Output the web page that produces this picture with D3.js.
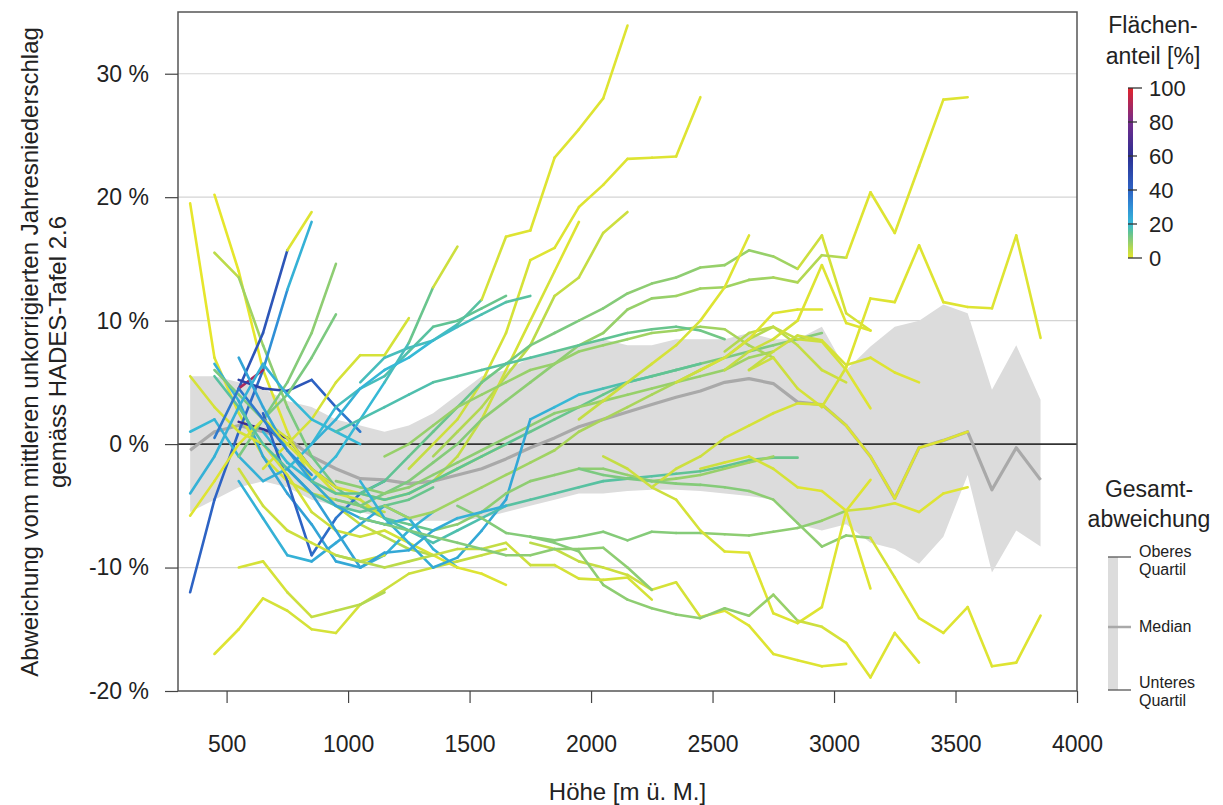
<!DOCTYPE html>
<html lang="de">
<head>
<meta charset="utf-8">
<title>Abweichung vom mittleren Jahresniederschlag nach Höhe</title>
<script src="https://cdn.jsdelivr.net/npm/d3@7"></script>
<style>
  body { margin: 0; background: #fff; }
  svg { display: block; }
  text { font-family: "Liberation Sans", Arial, sans-serif; fill: #222; }
  .axis text { font-size: 23px; }
  .axis line { stroke: #444; stroke-width: 1.2; }
  .grid { stroke: #d4d4d4; stroke-width: 1.2; }
  .legend-title { font-size: 23px; }
  .legend-label { font-size: 22px; }
  .band-label { font-size: 16px; }
</style>
</head>
<body>
<svg id="chart" width="1223" height="805"></svg>
<script>
// altitude classes (m ü. M.), 100 m bins
const altitudes = [350, 450, 550, 650, 750, 850, 950, 1050, 1150, 1250, 1350, 1450,
  1550, 1650, 1750, 1850, 1950, 2050, 2150, 2250, 2350, 2450, 2550, 2650, 2750,
  2850, 2950, 3050, 3150, 3250, 3350, 3450, 3550, 3650, 3750, 3850];

// total deviation: quartiles and median (%)
const bandUpper = [5.5, 5.5, 5.0, 4.5, 3.5, 3.0, 2.0, 1.5, 1.0, 1.5, 2.5, 4.0, 5.5, 6.0,
  7.0, 7.5, 8.0, 8.5, 8.0, 8.0, 8.5, 8.5, 8.5, 9.0, 8.5, 8.5, 9.5, 6.0, 7.9, 9.5, 10.0,
  11.3, 10.6, 4.4, 8.0, 3.6];
const bandMedian = [-0.5, 1.0, 1.5, 1.0, 0.5, -1.0, -2.0, -2.8, -2.9, -3.2, -3.0, -2.5,
  -2.0, -1.2, -0.3, 0.5, 1.4, 2.0, 2.6, 3.2, 3.8, 4.3, 5.0, 5.3, 4.9, 3.4, 3.2, 1.5,
  -1.0, -4.4, -0.3, 0.3, 1.0, -3.7, -0.3, -2.9];
const bandLower = [-5.5, -4.5, -3.5, -3.0, -3.5, -4.5, -5.0, -5.5, -6.0, -6.2, -6.2,
  -6.2, -6.0, -5.5, -5.0, -4.5, -4.0, -4.0, -3.8, -3.7, -3.7, -3.8, -4.0, -4.2, -4.5,
  -6.5, -7.0, -6.5, -8.0, -8.5, -9.7, -7.5, -2.5, -10.4, -7.0, -8.3];

// one entry per region: first altitude class, deviation per class (%),
// area share per segment (%)
const lineStart = [
  350, 450, 450, 350, 550, 550, 550, 550, 350, 450,
  450, 550, 450, 650, 650, 550, 650, 350, 350, 450,
  550, 650, 550, 550, 450, 350,
  1050, 1250, 1350, 1350,
  850, 950, 1050, 950, 1150, 1050, 1150, 1350, 1150, 950, 850,
  2650, 2650, 2550, 2250, 1450, 1950, 2050, 1750, 1750, 2450, 2550, 1950, 2350,
  750, 950, 1050
];
const lineValues = [
  [19.5, 7, 2.5, -1, -3, -4, -4.5, -5, -5.5],
  [20.2, 14, 6, 1, -3, -5, -6.5, -7.5, -8.5, -9],
  [15.5, 13.5, 8, 3, -1, -3.5, -5, -6, -6.5, -7],
  [-12, -4.5, 1, 6, 12.5, 18],
  [4.5, 9, 15.7, 18.8],
  [4.5, 6],
  [1.8, 1.2, 0.5, -2, -3.5],
  [5.2, 4.5, 4.3, 5.2, 3, 1],
  [1, 2, -1, -3, -2, 0, 3, 4.5, 5.5, 7.5, 9.5, 10, 11, 12],
  [6.5, 3.5, -1, -4, -6.5, -9.5, -10, -9, -7, -5.5],
  [-17, -15, -12.5, -13.5, -15, -15.3, -13, -11.8, -10.5, -10, -9.5, -9, -8.5],
  [-1, 2, 5, 9, 14.6],
  [6, 4, 2, 4, 7, 10.5],
  [1, -1.5, -3, -1, 2, 5, 8.2, 12.7, 16],
  [-2, 0, 2, 5, 7.2, 7.2, 10.2],
  [-3, -6, -9, -9.5, -8, -6.5, -5, -6, -8.5, -10],
  [2.5, -3, -9, -6, -4, -3],
  [-5.8, -3, 0, 2, 0.5, -2, -4, -4.5, -6],
  [5.5, 3, 1, 0, -2.5, -5.5, -7, -7.5, -7, -8, -9, -10, -10.5, -11.4],
  [5.5, 3, 0, -2, -4, -5, -5.5, -5, -4.5, -3.5],
  [7, 3, -0.5, -3, -5, -6, -6.5, -6],
  [2, 0, -2, -3.5, -4, -4.5, -4, -3, -2, -1, 0],
  [-2, -5, -7, -8, -9, -9.5, -9],
  [-10, -9.5, -12, -14, -13.5, -13, -12],
  [0.5, 4.5, 2, -0.5, -2.5],
  [-4, -1, 3, 6.5, 4, 2, 1, 0],
  [5, 7, 7.8, 8.4, 9.7, 11.7, 16.8, 17.3, 23.2, 25.5, 28, 33.9],
  [-2, 0, 2, 5, 9, 14.9, 15.9, 19.2, 21, 23.1, 23.2, 23.3, 28.1],
  [-1, 1, 3, 5.5, 8, 12, 13.5, 17.1, 18.8],
  [-3, -1, 2, 6, 10, 14, 18],
  [-3, -4, -4, -3, -1, 1, 3, 5, 6.5, 8, 9, 10, 11, 12.2, 13, 13.5, 14.3, 14.5, 15.7, 15.2, 14.2, 16.9, 10.6, 9.2],
  [-4.5, -5, -4, -3, -1.5, 0, 2, 3.5, 5, 6.5, 8, 9, 10.9, 11.8, 12, 12.6, 12.7, 13.3, 13.5, 13.1, 15.3, 15.1, 20.4, 17.1, 22.5, 27.9, 28.1],
  [-4, -4.5, -4, -3, -2, -1, 0, 1, 2, 3, 4, 5, 5.5, 6, 6.5, 7, 7.5, 8, 8.5, 9],
  [-3, -3.5, -4, -3.5, -2.5, -1.5, -0.5, 0.5, 1.5, 2.5, 3, 3.5, 4, 4.5, 5, 5.5, 6, 7, 7.5],
  [-5, -6, -5.5, -4.5, -3.5, -2.5, -1.5, -0.5, 1, 2, 3, 4, 5, 6, 7, 8.5, 9.5, 8, 6, 5],
  [-3, -6, -8, -10, -9.2, -7, -4.5, 2, 3, 4, 4.5, 5, 5.5, 6, 6.5],
  [-6, -7, -8, -7, -6, -5, -4.5, -4, -3.5, -3, -2.8, -2.6, -2.4, -2.2, -1.8, -1.3, -1.1, -1.1],
  [-7, -6.5, -5.5, -4, -3, -2.5, -2, -2, -2.5, -3, -2.8, -2.5, -2, -1.5, -1],
  [-1, 0, 1.5, 3, 4, 5, 6, 6.5, 7.5, 8, 8.5, 9, 9.2, 9.5, 9.3, 8, 7],
  [1, 2, 3, 4, 5, 5.5, 6, 6.5, 7, 7.5, 8, 8.5, 9, 9.3, 9.5, 9.2, 8.5],
  [0, 2, 4.5, 6, 7, 8.4, 9.5, 10.5, 11.5, 12],
  [6, 7, 4.5, 3, 6.2, 11.8, 11.5, 16.1, 11.5, 11.1, 11, 16.9, 8.6],
  [6, 7.5, 8.8, 8.4, 6.4, 7, 5.8, 5],
  [7.5, 9, 9.5, 8.5, 8.3, 6, 2.9],
  [-3.5, -2, -1, 0.5, 1.5, 2.5, 3.3, 3.2, 1.5, -1, -4.4, -0.3, 0.3, 1],
  [-5, -6, -7.2, -7.5, -7.8, -7.5, -7.1, -7.8, -7.1, -7.2, -7.2, -7.3, -7.4, -7.1, -6.8, -6.2, -5.4, -5.2, -4.8, -5.5, -4, -3.5],
  [-2, -2.5, -2.8, -3, -3.2, -3.3, -3.5, -3.8, -4.5, -6.4, -8.3, -7.4, -7.6, -10.8, -14.1, -15.3, -13.2, -18, -17.7, -13.9],
  [-1, -2, -3.5, -4.5, -7, -8.7, -8.8, -13.7, -14.5, -13.2, -5.4, -2.9],
  [-8, -8.5, -9.5, -10, -10.6, -11.8, -11.2, -14, -13.5, -14.7, -17, -17.5, -18, -17.8],
  [-7.5, -8, -8.7, -11.4, -12.6, -13.3, -13.8, -14.1, -13.3, -13.9, -12.2, -14.3, -14.8, -16.1, -18.9, -15.3, -17.7],
  [-2, -1.5, -1, -2, -3.5, -3.8, -5.4, -11.7],
  [6, 7.5, 8.5, 10, 14.5, 9.8, 9.2],
  [2, 3.5, 5, 6.5, 8, 10, 12.7, 16.9],
  [5, 6, 7, 8.5, 10.6, 10.9, 10.9],
  [-2, -4, -7, -10, -8.8, -8.6, -7, -6, -5.5, -5],
  [-9, -9.5, -10, -9.5, -9, -8.5, -8.5, -8, -9.8, -9.8, -10.9, -11, -10.8, -12.6],
  [-6, -6.5, -7, -7.5, -8, -8.5, -9, -9, -8.5, -8.5, -8.4, -10, -11.8]
];
const lineShares = [
  [0, 1, 2, 2, 3, 4, 4, 5],
  [0, 0, 1, 2, 3, 4, 5, 6, 6],
  [5, 8, 10, 12, 13, 13, 14, 14, 14],
  [40, 40, 38, 30, 22],
  [45, 45, 1],
  [90],
  [65, 62, 55, 45],
  [52, 50, 45, 40, 35],
  [20, 22, 22, 22, 20, 20, 18, 18, 17, 16, 15, 15, 14],
  [22, 24, 25, 26, 25, 24, 22, 22, 22],
  [1, 1, 2, 2, 2, 2, 3, 3, 3, 4, 4, 4],
  [12, 12, 11, 10],
  [12, 12, 12, 12, 12],
  [20, 20, 20, 20, 20, 18, 14, 3],
  [2, 2, 2, 2, 2, 2],
  [22, 22, 22, 24, 24, 24, 22, 22, 22],
  [40, 40, 38, 35, 30],
  [1, 1, 1, 2, 2, 2, 3, 3],
  [2, 2, 2, 2, 2, 3, 3, 3, 2, 2, 1, 1, 1],
  [16, 16, 16, 16, 16, 15, 15, 14, 14],
  [25, 25, 25, 24, 24, 23, 22],
  [2, 2, 2, 2, 2, 2, 2, 2, 2, 2],
  [3, 3, 3, 3, 3, 3],
  [2, 2, 3, 4, 5, 6],
  [35, 35, 33, 30],
  [22, 22, 22, 22, 20, 20, 20],
  [18, 18, 18, 18, 16, 2, 1, 1, 1, 1, 1],
  [4, 3, 3, 2, 2, 1, 1, 1, 1, 1, 1, 1],
  [7, 6, 6, 5, 5, 4, 4, 3],
  [5, 4, 3, 2, 2, 1],
  [15, 15, 15, 15, 14, 14, 14, 13, 13, 12, 12, 11, 11, 10, 10, 10, 9, 9, 9, 8, 3, 2, 2],
  [12, 12, 12, 11, 11, 11, 10, 10, 10, 10, 9, 9, 9, 9, 8, 8, 8, 8, 7, 6, 6, 1, 1, 1, 1, 1],
  [15, 15, 15, 15, 15, 15, 15, 14, 14, 14, 14, 13, 13, 13, 12, 12, 12, 11, 11],
  [10, 10, 10, 10, 10, 10, 10, 10, 10, 10, 9, 9, 9, 9, 9, 9, 8, 8],
  [8, 8, 8, 8, 8, 8, 8, 7, 7, 7, 7, 7, 6, 6, 6, 6, 5, 4, 3],
  [22, 22, 23, 24, 24, 24, 24, 22, 20, 18, 17, 16, 15, 15],
  [17, 17, 17, 17, 17, 16, 16, 16, 16, 16, 16, 16, 15, 15, 15, 14, 14],
  [10, 10, 10, 10, 10, 10, 10, 10, 9, 9, 9, 9, 8, 8],
  [9, 9, 9, 9, 9, 9, 9, 9, 9, 9, 8, 8, 8, 8, 7, 7],
  [17, 17, 17, 17, 16, 16, 16, 16, 16, 15, 15, 15, 14, 14, 14, 13],
  [22, 22, 21, 20, 20, 19, 18, 17, 16],
  [3, 3, 2, 2, 1, 1, 1, 1, 1, 1, 1, 1],
  [4, 3, 3, 2, 2, 1, 1],
  [6, 5, 4, 3, 2, 1],
  [3, 3, 3, 2, 2, 2, 2, 2, 1, 1, 1, 1, 1],
  [11, 11, 11, 11, 11, 11, 11, 11, 11, 11, 10, 10, 10, 10, 10, 9, 3, 2, 1, 1, 1],
  [12, 12, 12, 11, 11, 11, 11, 10, 10, 10, 10, 10, 2, 1, 1, 1, 1, 1, 1],
  [4, 3, 3, 2, 2, 1, 1, 1, 1, 1, 1],
  [5, 4, 4, 3, 3, 2, 2, 1, 1, 1, 1, 1, 1],
  [11, 11, 10, 10, 10, 10, 10, 10, 10, 9, 9, 3, 2, 1, 1, 1],
  [3, 2, 2, 2, 1, 1, 1],
  [4, 3, 2, 1, 1, 1],
  [4, 3, 3, 2, 2, 1, 1],
  [3, 2, 2, 1, 1, 1],
  [26, 26, 25, 25, 24, 24, 23, 22, 22],
  [6, 6, 5, 5, 4, 4, 4, 3, 3, 2, 2, 2, 2],
  [12, 12, 12, 11, 11, 11, 10, 10, 10, 10, 10, 10]
];

// axis ticks and legend labels
const xTicks = [500, 1000, 1500, 2000, 2500, 3000, 3500, 4000];
const yTicks = [-20, -10, 0, 10, 20, 30];
const shareTicks = [0, 20, 40, 60, 80, 100];
const shareStops = [0, 5, 10, 15, 20, 30, 40, 60, 80, 100];
const shareColors = ["#e6e62c", "#bcdb4a", "#8ecd72", "#60c394", "#36b9d6",
  "#2f8fd6", "#2d63c4", "#2c2f93", "#742c8b", "#e3232b"];
const bandLegendLabels = [["Oberes", "Quartil"], ["Median"], ["Unteres", "Quartil"]];

const svg = d3.select("#chart");
const plot = {left: 178, right: 1077, top: 12, bottom: 691};

const x = d3.scaleLinear().domain([300, 4000]).range([plot.left, plot.right]);
const y = d3.scaleLinear().domain([-20, 35]).range([plot.bottom, plot.top]);
const color = d3.scaleLinear().domain(shareStops).range(shareColors);

// grid lines
svg.append("g").selectAll("line")
  .data(yTicks.filter(d => d !== 0 && d !== -20))
  .join("line").attr("class", "grid")
  .attr("x1", plot.left).attr("x2", plot.right)
  .attr("y1", d => y(d)).attr("y2", d => y(d));

// quartile band
const bandData = altitudes.map((a, i) => ({a, lo: bandLower[i], hi: bandUpper[i], med: bandMedian[i]}));
svg.append("path").datum(bandData)
  .attr("fill", "#dcdcdc")
  .attr("d", d3.area().x(d => x(d.a)).y0(d => y(d.lo)).y1(d => y(d.hi)));

// zero line
svg.append("line")
  .attr("x1", plot.left).attr("x2", plot.right)
  .attr("y1", y(0)).attr("y2", y(0))
  .attr("stroke", "#333").attr("stroke-width", 1.6);

// median
svg.append("path").datum(bandData)
  .attr("fill", "none").attr("stroke", "#a9a9a9").attr("stroke-width", 3.2)
  .attr("stroke-linejoin", "round")
  .attr("d", d3.line().x(d => x(d.a)).y(d => y(d.med)));

// regional lines, drawn segment by segment, coloured by area share
const segments = [];
lineValues.forEach((vals, k) => {
  const i0 = altitudes.indexOf(lineStart[k]);
  for (let j = 0; j < vals.length - 1; j++) {
    segments.push({
      a0: altitudes[i0 + j], v0: vals[j],
      a1: altitudes[i0 + j + 1], v1: vals[j + 1],
      share: lineShares[k][j]
    });
  }
});
svg.append("g").selectAll("line")
  .data(segments)
  .join("line")
  .attr("x1", d => x(d.a0)).attr("y1", d => y(d.v0))
  .attr("x2", d => x(d.a1)).attr("y2", d => y(d.v1))
  .attr("stroke", d => color(d.share))
  .attr("stroke-width", 2.6)
  .attr("stroke-linecap", "round");

// frame
svg.append("rect")
  .attr("x", plot.left).attr("y", plot.top)
  .attr("width", plot.right - plot.left).attr("height", plot.bottom - plot.top)
  .attr("fill", "none").attr("stroke", "#555").attr("stroke-width", 1.5);

// axes
const yAxis = svg.append("g").attr("class", "axis")
  .attr("transform", `translate(${plot.left},0)`)
  .call(d3.axisLeft(y).tickValues(yTicks).tickFormat(d => d + " %").tickSize(13).tickPadding(16));
yAxis.select(".domain").remove();

const xAxis = svg.append("g").attr("class", "axis")
  .attr("transform", `translate(0,${plot.bottom})`)
  .call(d3.axisBottom(x).tickValues(xTicks).tickFormat(d3.format("d")).tickSize(12).tickPadding(33));
xAxis.select(".domain").remove();

svg.append("text")
  .attr("x", (plot.left + plot.right) / 2).attr("y", 800)
  .attr("text-anchor", "middle").style("font-size", "24px")
  .text("Höhe [m ü. M.]");

const yTitle = svg.append("text")
  .attr("transform", "translate(0,352) rotate(-90)")
  .attr("text-anchor", "middle").style("font-size", "24px");
yTitle.append("tspan").attr("x", 0).attr("y", 38)
  .text("Abweichung vom mittleren unkorrigierten Jahresniederschlag");
yTitle.append("tspan").attr("x", 0).attr("y", 66)
  .text("gemäss HADES-Tafel 2.6");

// colour legend
const legendY = d3.scaleLinear().domain([0, 100]).range([258, 88]);
const grad = svg.append("defs").append("linearGradient")
  .attr("id", "shareGrad").attr("x1", 0).attr("x2", 0).attr("y1", 1).attr("y2", 0);
grad.selectAll("stop").data(shareStops).join("stop")
  .attr("offset", d => d / 100).attr("stop-color", d => color(d));
svg.append("rect")
  .attr("x", 1128).attr("y", legendY(100))
  .attr("width", 5).attr("height", legendY(0) - legendY(100))
  .attr("fill", "url(#shareGrad)");
svg.append("g").selectAll("line").data(shareTicks).join("line")
  .attr("x1", 1128).attr("x2", d => (d === 0 || d === 100) ? 1142 : 1137)
  .attr("y1", d => legendY(d)).attr("y2", d => legendY(d))
  .attr("stroke", "#333").attr("stroke-width", 1.3);
svg.append("g").selectAll("text").data(shareTicks).join("text")
  .attr("class", "legend-label")
  .attr("x", 1149).attr("y", d => legendY(d)).attr("dy", "0.36em")
  .text(d => d);
const shareTitle = svg.append("text").attr("class", "legend-title").attr("text-anchor", "middle");
shareTitle.append("tspan").attr("x", 1153).attr("y", 33).text("Flächen-");
shareTitle.append("tspan").attr("x", 1153).attr("y", 64).text("anteil [%]");

// band legend
const bandTitle = svg.append("text").attr("class", "legend-title").attr("text-anchor", "middle");
bandTitle.append("tspan").attr("x", 1149).attr("y", 497).text("Gesamt-");
bandTitle.append("tspan").attr("x", 1149).attr("y", 527).text("abweichung");

const bandKeyY = [557, 627, 690];
svg.append("rect").attr("x", 1108).attr("y", bandKeyY[0])
  .attr("width", 10).attr("height", bandKeyY[2] - bandKeyY[0]).attr("fill", "#dcdcdc");
svg.append("g").selectAll("line").data(bandKeyY).join("line")
  .attr("x1", 1108).attr("x2", 1131)
  .attr("y1", d => d).attr("y2", d => d)
  .attr("stroke", (d, i) => i === 1 ? "#a9a9a9" : "#555")
  .attr("stroke-width", (d, i) => i === 1 ? 2.5 : 1.3);
svg.append("g").selectAll("text").data(bandLegendLabels).join("text")
  .attr("class", "band-label")
  .attr("x", 1139)
  .attr("y", (d, i) => [557, 632, 688][i])
  .each(function(d) {
    d3.select(this).selectAll("tspan").data(d).join("tspan")
      .attr("x", 1139).attr("dy", (t, j) => j === 0 ? 0 : 18).text(t => t);
  });
</script>
</body>
</html>
